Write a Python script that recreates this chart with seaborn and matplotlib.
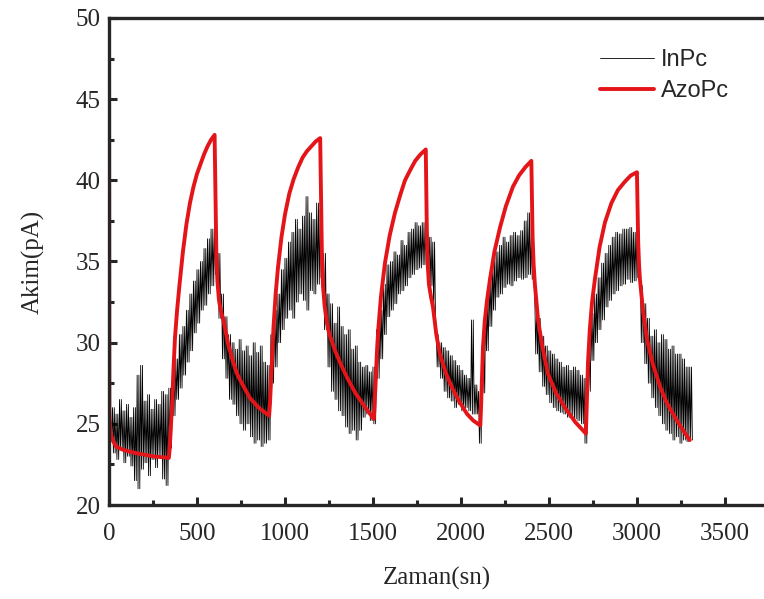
import numpy as np
import pandas as pd
import seaborn as sns
import matplotlib.pyplot as plt
from matplotlib.ticker import MultipleLocator

sns.set_style("ticks")
plt.rcParams['font.family'] = ['Liberation Serif', 'DejaVu Serif']

# InPc current trace, upper / lower edge of the noise band every 20 s
inpc_t = np.arange(0, 3301, 20)
inpc_hi = [25.2, 26.0, 25.6, 26.5, 25.8, 26.2, 25.4, 26.0, 28.0, 28.6,
           26.4, 26.8, 25.9, 26.5, 26.2, 27.0, 26.8, 27.2, 28.0, 29.0,
           30.5, 31.0, 32.0, 33.0, 33.8, 34.5, 35.0, 35.8, 36.4, 37.0,
           37.3, 35.5, 33.0, 31.6, 30.5, 30.0, 29.6, 30.2, 29.5, 29.8,
           29.2, 30.0, 29.4, 29.8, 28.8, 28.6, 30.5, 32.0, 33.0, 34.5,
           35.2, 36.2, 36.8, 37.6, 37.0, 37.8, 39.0, 38.0, 37.6, 38.6,
           38.2, 35.5, 33.0, 32.4, 31.2, 32.2, 31.0, 30.5, 30.8, 29.6,
           29.8, 28.8, 28.5, 28.6, 28.2, 28.5, 30.8, 32.0, 33.6, 34.8,
           35.0, 35.6, 35.4, 36.3, 36.0, 36.8, 37.0, 37.4, 37.2, 37.4,
           37.0, 36.5, 36.2, 30.5, 30.0, 29.7, 29.5, 29.2, 28.9, 28.6,
           28.3, 28.0, 27.8, 31.4, 27.4, 27.0, 29.7, 32.5, 34.0, 35.0,
           35.6, 36.0, 36.5, 36.2, 36.6, 36.8, 36.6, 36.9, 37.5, 38.0,
           36.5, 32.4, 31.5, 30.4, 29.8, 29.5, 29.3, 29.0, 28.8, 28.5,
           28.6, 28.3, 28.5, 28.3, 28.0, 27.8, 29.5, 31.8, 33.0, 34.0,
           34.9, 35.5, 36.0, 36.5, 36.8, 36.7, 37.0, 37.0, 37.1, 36.8,
           37.0, 33.5, 32.4, 31.5, 30.4, 30.8, 30.0, 30.5, 30.2, 29.6,
           29.8, 29.3, 29.3, 29.0, 28.5, 28.5]
inpc_lo = [24.0, 23.2, 22.8, 23.4, 22.6, 23.0, 22.4, 21.5, 21.0, 22.2,
           22.6, 21.8, 22.8, 22.3, 23.0, 21.6, 21.2, 23.5, 25.5, 26.5,
           27.2, 28.0, 28.8, 29.5, 30.6, 31.2, 32.0, 32.3, 33.0, 33.5,
           34.2, 31.5, 29.0, 27.8, 26.5, 26.2, 25.5, 25.0, 24.6, 25.0,
           24.2, 23.8, 24.0, 23.6, 23.8, 24.0, 27.5, 28.5, 30.0, 30.8,
           31.5, 32.0, 31.5, 32.5, 33.0, 32.6, 32.0, 33.2, 33.0, 33.6,
           34.0, 30.8, 28.5, 27.0, 26.5, 25.8, 25.5, 24.8, 24.4, 24.6,
           24.0, 24.6, 25.4, 25.6, 25.2, 25.0, 27.8, 29.0, 30.5, 31.6,
           32.0, 32.4, 33.0, 33.2, 33.5, 34.0, 34.2, 34.5, 34.6, 34.8,
           35.0, 33.5, 31.8, 28.5, 27.8, 27.0, 26.6, 26.4, 26.0, 26.2,
           25.8, 26.0, 25.8, 25.6, 25.6, 23.8, 26.9, 29.5, 31.0, 32.0,
           32.8, 33.0, 33.4, 33.6, 33.5, 33.8, 34.0, 33.9, 34.0, 34.2,
           33.9, 29.3, 28.2, 27.3, 26.8, 26.3, 26.0, 25.8, 25.7, 25.6,
           25.4, 25.5, 25.3, 25.2, 25.0, 23.8, 27.0, 28.9, 30.0, 30.8,
           31.4, 32.2, 32.6, 33.0, 33.2, 33.5, 33.6, 33.9, 33.7, 33.8,
           34.0, 30.0, 28.7, 27.5, 26.6, 26.0, 25.5, 25.0, 24.6, 24.4,
           24.0, 24.2, 23.8, 24.0, 23.9, 24.0]

# AzoPc current (smooth curve)
azo_t = [0, 2, 5, 10, 20, 40, 80, 150, 250, 340,
         345, 350, 355, 360, 367, 375, 387, 400, 420, 440, 460, 480, 500, 520, 540, 560, 580, 600,
         603, 606, 610, 616, 625, 637, 650, 675, 700, 727, 750, 800, 850, 910,
         915, 920, 927, 935, 947, 960, 980, 1000, 1025, 1050, 1075, 1100, 1125, 1150, 1175, 1200,
         1203, 1206, 1210, 1216, 1225, 1237, 1250, 1285, 1320, 1360, 1400, 1450, 1505,
         1510, 1515, 1522, 1530, 1545, 1568, 1595, 1625, 1655, 1682, 1710, 1740, 1770, 1800,
         1803, 1806, 1810, 1818, 1830, 1841, 1860, 1880, 1915, 1955, 1995, 2035, 2070, 2110,
         2114, 2118, 2125, 2135, 2148, 2165, 2190, 2222, 2255, 2295, 2330, 2365, 2400,
         2403, 2407, 2413, 2420, 2438, 2460, 2494, 2540, 2591, 2650, 2710,
         2714, 2718, 2722, 2732, 2745, 2761, 2788, 2818, 2855, 2892, 2930, 2965, 3000,
         3003, 3007, 3012, 3017, 3035, 3057, 3090, 3131, 3165, 3205, 3250, 3300]
azo_v = [50.0, 26.0, 25.0, 24.4, 24.0, 23.6, 23.4, 23.2, 23.0, 22.9,
         23.5, 24.5, 25.4, 26.5, 28.5, 30.3, 32.0, 33.5, 35.6, 37.3, 38.6, 39.6, 40.4, 41.0, 41.6, 42.1, 42.5, 42.8,
         40.5, 37.8, 35.5, 33.8, 32.6, 31.9, 31.4, 30.0, 29.0, 28.1, 27.6, 26.6, 26.0, 25.5,
         26.3, 27.5, 29.2, 31.0, 33.0, 34.6, 36.5, 37.9, 39.2, 40.1, 40.8, 41.4, 41.8, 42.1, 42.4, 42.6,
         40.3, 37.6, 35.2, 33.5, 32.3, 31.3, 30.6, 29.5, 28.6, 27.7, 26.9, 26.1, 25.3,
         26.3, 27.6, 29.3, 30.8, 32.8, 34.9, 36.6, 38.0, 39.1, 40.0, 40.6, 41.2, 41.6, 41.9,
         39.5, 37.0, 35.0, 33.6, 32.8, 32.2, 30.5, 29.3, 28.1, 27.1, 26.3, 25.6, 25.2, 24.9,
         26.0, 27.4, 29.7, 31.3, 32.6, 33.9, 35.6, 37.1, 38.4, 39.6, 40.3, 40.8, 41.2,
         39.0, 36.5, 34.8, 33.6, 31.4, 29.9, 28.1, 26.9, 26.0, 25.1, 24.4,
         25.8, 27.4, 28.8, 30.8, 32.5, 33.9, 35.9, 37.4, 38.6, 39.4, 39.9, 40.3, 40.5,
         38.5, 36.2, 34.8, 33.9, 31.9, 30.2, 28.7, 27.3, 26.4, 25.6, 24.8, 24.0]

# zigzag the two edges into one dense noisy trace (two swings per 20 s sample)
zz_t = np.ravel(np.column_stack([inpc_t, inpc_t + 5, inpc_t + 10, inpc_t + 15]))
zz_v = np.ravel(np.column_stack([inpc_hi, inpc_lo, inpc_hi, inpc_lo]))
inpc = pd.DataFrame({'t': zz_t, 'I': zz_v})
azo = pd.DataFrame({'t': azo_t, 'I': azo_v})

fig = plt.figure(figsize=(7.64, 5.99), dpi=100)
ax = fig.add_axes([109/764, 94/599, 1 - 109/764, 487/599])
sns.lineplot(data=inpc, x='t', y='I', ax=ax, color='black', linewidth=0.6,
             sort=False, estimator=None, label='InPc')
sns.lineplot(data=azo, x='t', y='I', ax=ax, color='#e41519', linewidth=2.8,
             sort=False, estimator=None, label='AzoPc')

ax.set_xlim(0, 3722)
ax.set_ylim(20, 50)
ax.xaxis.set_major_locator(MultipleLocator(500))
ax.xaxis.set_minor_locator(MultipleLocator(250))
ax.yaxis.set_major_locator(MultipleLocator(5))
ax.yaxis.set_minor_locator(MultipleLocator(2.5))
ax.tick_params(which='major', direction='in', length=6, width=2.2, labelsize=18, pad=6)
ax.tick_params(which='minor', direction='in', length=3.5, width=2.2)
ax.tick_params(axis='x', which='major', pad=13)
ax.tick_params(top=False, right=False, which='both')
for s in ['left', 'bottom', 'top']:
    ax.spines[s].set_linewidth(2.4)
ax.spines['right'].set_visible(False)

ax.set_xlabel('Zaman(sn)', fontsize=18, labelpad=16)
ax.set_ylabel('Akim(pA)', fontsize=18, labelpad=22)

leg = ax.legend(loc='upper left', bbox_to_anchor=(588/764, 1 - 37/599),
                bbox_transform=fig.transFigure, frameon=False, borderpad=0,
                handlelength=2.3, handletextpad=0.3, labelspacing=0.4,
                prop={'family': 'Liberation Sans', 'size': 17})

fig.savefig('out.png', dpi=100)
